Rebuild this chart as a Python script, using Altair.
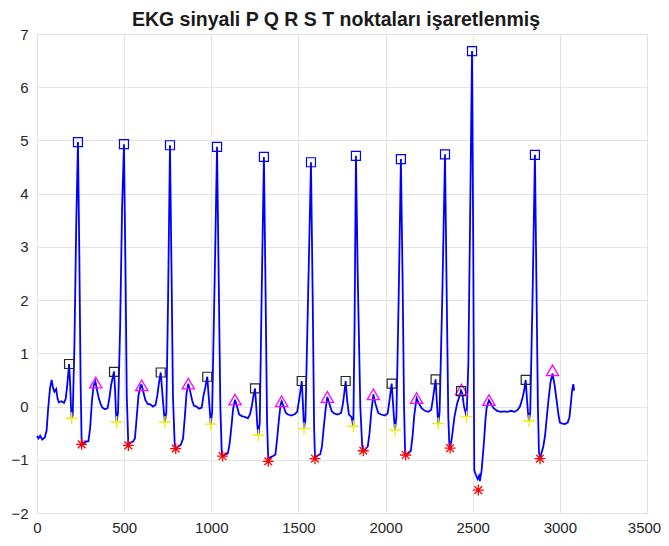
import altair as alt
import pandas as pd

# ---- ECG signal vertices ----
sig_x = [0, 8, 18, 30, 45, 55, 65, 75, 84, 92, 100, 110, 118, 125, 140, 155, 165, 175, 184, 190, 195, 199, 205, 215, 225, 235, 243, 250, 256, 265, 280, 295, 305, 315, 325, 335, 345, 355, 365, 375, 390, 405, 415, 425, 442, 448, 453, 457, 465, 477, 488, 499, 508, 515, 524, 535, 550, 562, 572, 582, 595, 601, 612, 622, 635, 650, 665, 680, 690, 700, 710, 718, 728, 734, 742, 752, 763, 772, 780, 790, 796, 810, 825, 838, 848, 858, 868, 878, 890, 900, 915, 930, 945, 955, 965, 977, 985, 992, 997, 1005, 1020, 1033, 1043, 1052, 1060, 1065, 1080, 1095, 1105, 1115, 1125, 1136, 1148, 1160, 1175, 1195, 1210, 1222, 1232, 1242, 1251, 1258, 1264, 1270, 1278, 1290, 1302, 1312, 1320, 1327, 1340, 1355, 1368, 1378, 1388, 1398, 1404, 1415, 1428, 1440, 1460, 1480, 1493, 1505, 1519, 1525, 1532, 1540, 1555, 1572, 1582, 1590, 1595, 1610, 1625, 1635, 1645, 1656, 1666, 1678, 1691, 1705, 1725, 1745, 1755, 1763, 1771, 1780, 1790, 1805, 1815, 1822, 1830, 1840, 1855, 1866, 1872, 1885, 1898, 1908, 1918, 1930, 1942, 1958, 1975, 1995, 2012, 2022, 2035, 2042, 2048, 2054, 2062, 2075, 2088, 2098, 2106, 2112, 2115, 2130, 2145, 2155, 2165, 2178, 2192, 2207, 2225, 2245, 2262, 2272, 2287, 2294, 2302, 2310, 2325, 2341, 2350, 2360, 2366, 2370, 2380, 2395, 2410, 2424, 2433, 2440, 2450, 2458, 2465, 2475, 2485, 2496, 2503, 2509, 2520, 2528, 2536, 2541, 2546, 2551, 2560, 2566, 2573, 2580, 2593, 2605, 2620, 2640, 2660, 2680, 2700, 2720, 2740, 2758, 2771, 2785, 2795, 2804, 2812, 2817, 2823, 2830, 2843, 2857, 2866, 2874, 2880, 2886, 2896, 2905, 2915, 2925, 2934, 2946, 2958, 2970, 2982, 2992, 3000, 3015, 3029, 3045, 3055, 3063, 3070, 3077, 3082]
sig_y = [-0.55, -0.6, -0.55, -0.62, -0.58, -0.45, 0.0, 0.35, 0.5, 0.35, 0.28, 0.33, 0.15, 0.08, 0.1, 0.07, 0.15, 0.45, 0.8, 0.45, 0.0, -0.22, -0.15, 1.2, 3.4, 4.97, 2.8, 0.5, -0.65, -0.7, -0.66, -0.65, -0.4, 0.1, 0.4, 0.47, 0.3, 0.15, 0.05, -0.02, -0.05, -0.03, 0.15, 0.4, 0.66, 0.3, -0.1, -0.29, -0.1, 1.5, 3.7, 4.93, 2.5, 0.2, -0.72, -0.68, -0.66, -0.6, -0.2, 0.2, 0.4, 0.4, 0.25, 0.12, 0.05, 0.04, 0.0, 0.03, 0.2, 0.45, 0.64, 0.3, -0.1, -0.29, -0.1, 2.0, 4.91, 2.5, 0.2, -0.7, -0.79, -0.75, -0.72, -0.6, -0.2, 0.25, 0.43, 0.3, 0.12, 0.02, 0.0, -0.04, -0.02, 0.2, 0.35, 0.56, 0.2, -0.1, -0.33, -0.1, 2.5, 4.88, 2.3, 0.0, -0.85, -0.93, -0.9, -0.88, -0.7, -0.4, -0.05, 0.13, 0.0, -0.15, -0.18, -0.2, -0.22, -0.15, 0.0, 0.2, 0.34, 0.0, -0.35, -0.54, -0.3, 2.3, 4.69, 2.0, -0.3, -1.0, -0.95, -0.93, -0.9, -0.6, -0.25, 0.05, 0.1, 0.0, -0.12, -0.15, -0.17, -0.14, -0.1, 0.15, 0.48, 0.1, -0.41, -0.25, 2.0, 4.59, 2.0, -0.4, -0.96, -0.92, -0.9, -0.75, -0.4, -0.05, 0.18, 0.05, -0.09, -0.13, -0.15, -0.12, 0.05, 0.25, 0.48, 0.1, -0.15, -0.2, -0.37, 1.5, 4.71, 2.5, 0.0, -0.75, -0.83, -0.8, -0.75, -0.5, -0.1, 0.23, 0.05, -0.12, -0.15, -0.17, -0.13, 0.1, 0.43, 0.1, -0.2, -0.44, -0.2, 2.0, 4.65, 2.3, 0.0, -0.85, -0.91, -0.88, -0.83, -0.55, -0.15, 0.16, 0.05, -0.03, -0.08, -0.1, -0.06, 0.15, 0.51, 0.1, -0.32, -0.1, 2.0, 4.74, 2.3, -0.2, -0.72, -0.78, -0.6, -0.2, 0.05, 0.2, 0.3, 0.25, 0.0, -0.1, -0.19, 0.8, 3.5, 6.68, 3.0, -1.2, -1.3, -1.36, -1.3, -1.4, -1.3, -1.2, -0.85, -0.6, -0.25, -0.02, 0.12, 0.05, -0.03, -0.08, -0.1, -0.09, -0.1, -0.08, -0.1, -0.06, 0.0, 0.15, 0.3, 0.5, 0.1, -0.1, -0.27, -0.1, 2.0, 4.73, 2.2, 0.0, -0.85, -0.98, -0.86, -0.75, -0.55, -0.2, 0.1, 0.45, 0.62, 0.4, 0.1, -0.15, -0.3, -0.32, -0.33, -0.3, -0.2, 0.05, 0.3, 0.42, 0.3]

# ---- detected points ----
R_x = [235, 499, 763, 1033, 1302, 1572, 1830, 2088, 2341, 2496, 2857]
R_y = [4.97, 4.93, 4.91, 4.88, 4.69, 4.59, 4.71, 4.65, 4.74, 6.68, 4.73]
P_x = [184, 442, 710, 977, 1251, 1519, 1771, 2035, 2287, 2433, 2804]
P_y = [0.80, 0.65, 0.64, 0.56, 0.34, 0.48, 0.48, 0.43, 0.51, 0.29, 0.50]
Q_x = [199, 457, 734, 997, 1270, 1532, 1815, 2054, 2302, 2465, 2823]
Q_y = [-0.22, -0.29, -0.29, -0.33, -0.54, -0.41, -0.37, -0.44, -0.32, -0.19, -0.27]
S_x = [256, 524, 796, 1065, 1327, 1595, 1872, 2115, 2370, 2532, 2886]
S_y = [-0.71, -0.73, -0.79, -0.93, -1.03, -0.98, -0.83, -0.91, -0.78, -1.57, -0.98]
T_x = [337, 601, 868, 1136, 1404, 1666, 1930, 2178, 2436, 2593, 2958]
T_y = [0.45, 0.40, 0.43, 0.13, 0.10, 0.18, 0.23, 0.16, 0.32, 0.12, 0.68]

x_ticks = [0, 500, 1000, 1500, 2000, 2500, 3000, 3500]
y_ticks = [-2, -1, 0, 1, 2, 3, 4, 5, 6, 7]
title_text = "EKG sinyali P Q R S T noktaları işaretlenmiş"

FONT = "Liberation Sans"

xs = alt.Scale(domain=[0, 3500], nice=False, zero=False)
ys = alt.Scale(domain=[-2, 7], nice=False, zero=False)

xax = alt.Axis(values=x_ticks, title=None, grid=True, ticks=False, domain=False, format="d",
               labelFont=FONT, labelFontSize=15, labelColor="#262626",
               labelPadding=7, gridColor="#e3e3e3", gridWidth=1, labelFlush=False,
               labelOffset={"condition": {"test": "datum.value == 3500", "value": -3}, "value": 0})
yax = alt.Axis(values=y_ticks, title=None, grid=True, ticks=False, domain=False, format="d",
               labelFont=FONT, labelFontSize=15, labelColor="#262626",
               labelPadding=9, gridColor="#e3e3e3", gridWidth=1, labelFlush=False,
               labelBaseline="middle")

sig = pd.DataFrame({"x": sig_x, "y": sig_y, "i": list(range(len(sig_x)))})

line = alt.Chart(sig).mark_line(color="#0000ff", strokeWidth=1.8).encode(
    x=alt.X("x:Q", scale=xs, axis=xax),
    y=alt.Y("y:Q", scale=ys, axis=yax),
    order="i:Q",
)

def pts(xv, yv, shape, color, size, sw=1.2):
    df = pd.DataFrame({"x": xv, "y": yv})
    return alt.Chart(df).mark_point(shape=shape, filled=False, color=color,
                                    size=size, strokeWidth=sw, opacity=1).encode(
        x=alt.X("x:Q", scale=xs),
        y=alt.Y("y:Q", scale=ys),
    )

plus = "M-1,0L1,0M0,-1L0,1"
aster = "M-1,0L1,0M0,-1L0,1M-0.7,-0.7L0.7,0.7M-0.7,0.7L0.7,-0.7"

title = alt.Chart(pd.DataFrame({"t": [title_text]})).mark_text(
    font=FONT, fontSize=19.5, fontWeight="bold", color="#1a1a1a",
    align="center", baseline="alphabetic"
).encode(text="t:N", x=alt.value(299), y=alt.value(-8))

chart = alt.layer(
    line,
    pts(R_x, R_y, "square", "#0000ff", 81),
    pts(Q_x, Q_y, plus, "#f0f000", 144, 1.4),
    pts(S_x, S_y, aster, "#ff0000", 121, 1.3),
    pts(T_x, T_y, "triangle-up", "#ff00ff", 150, 1.3),
    pts(P_x, P_y, "square", "#262626", 81),
    title,
).properties(
    width=610, height=479,
    autosize=alt.AutoSizeParams(type="none"),
    padding={"left": 29, "top": 26, "right": 14, "bottom": 21},
).configure_view(stroke="#262626", strokeWidth=1).configure(background="white")

chart.save("out.html", embed_options={"renderer": "svg", "actions": False})
